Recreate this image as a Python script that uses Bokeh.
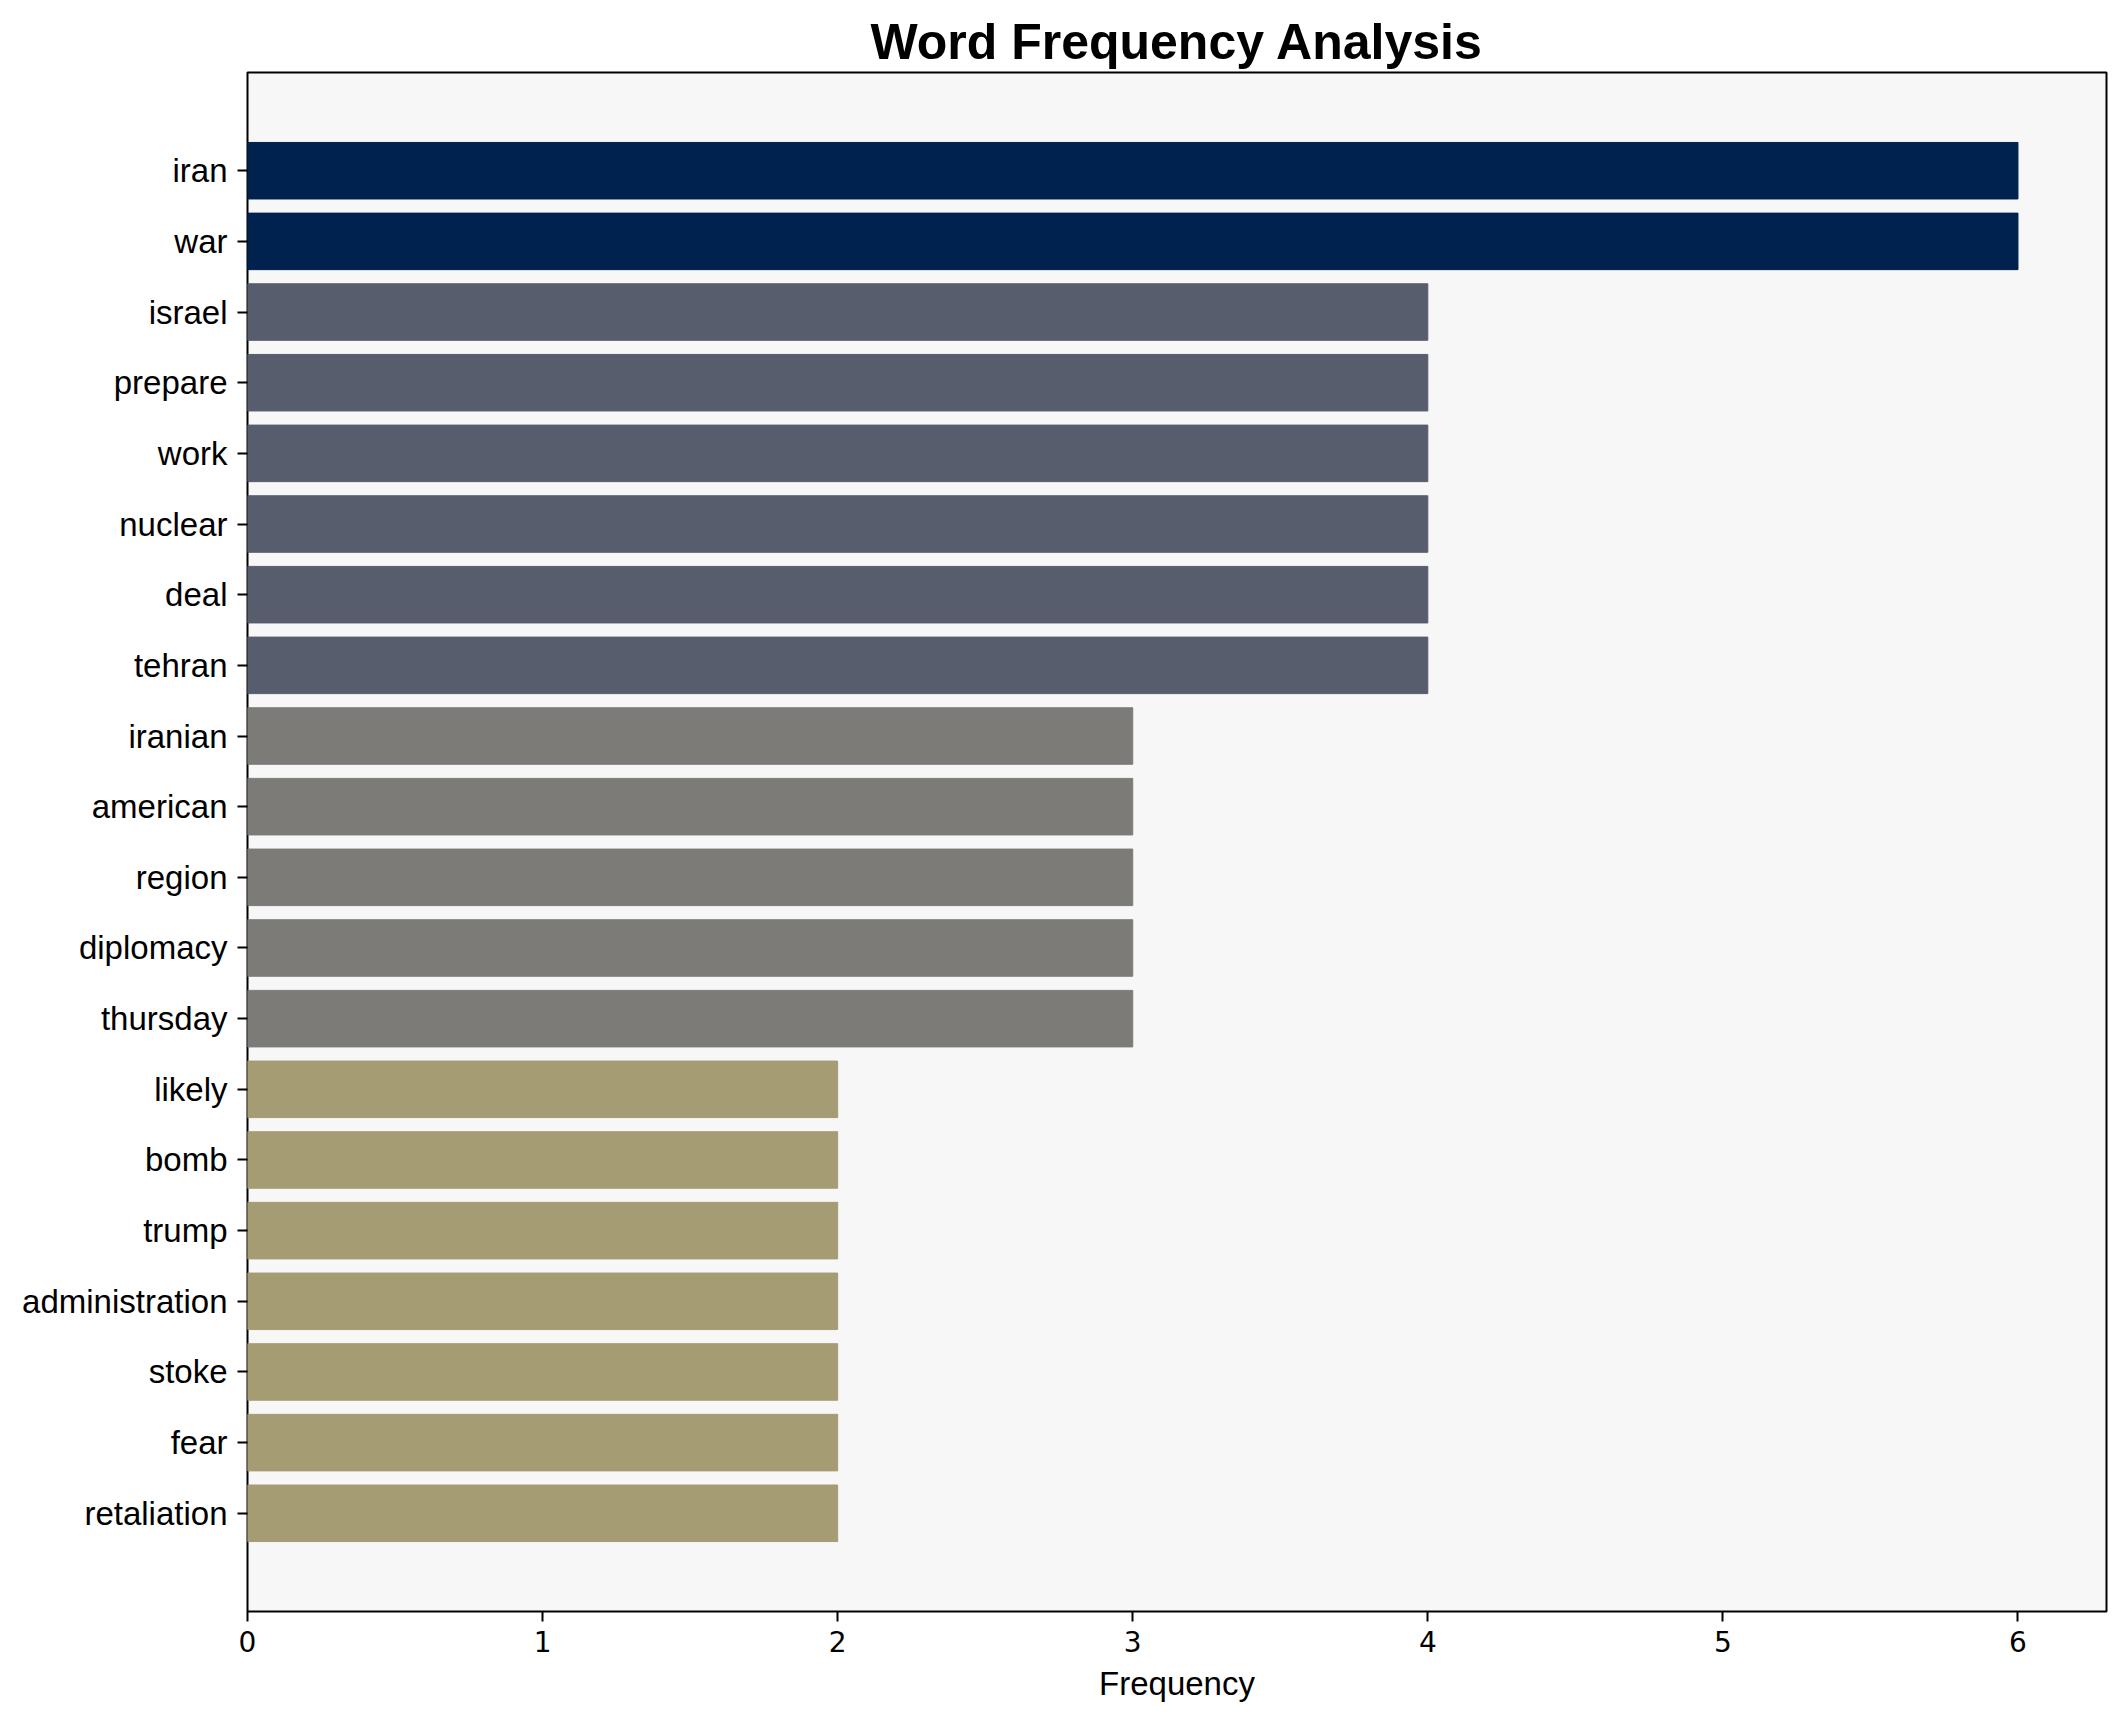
from bokeh.plotting import figure
from bokeh.models import ColumnDataSource, FactorRange, Range1d, FixedTicker
from bokeh.embed import file_html
from bokeh.resources import INLINE

words = ["iran", "war", "israel", "prepare", "work", "nuclear", "deal", "tehran",
         "iranian", "american", "region", "diplomacy", "thursday",
         "likely", "bomb", "trump", "administration", "stoke", "fear", "retaliation"]
counts = [6, 6, 4, 4, 4, 4, 4, 4, 3, 3, 3, 3, 3, 2, 2, 2, 2, 2, 2, 2]
x_ticks = [0, 1, 2, 3, 4, 5, 6]

palette = {6: "#00224e", 4: "#585d6d", 3: "#7c7b78", 2: "#a59c74"}
colors = [palette[c] for c in counts]

src = ColumnDataSource(dict(word=words, count=counts, color=colors))

y_range = FactorRange(factors=list(reversed(words)), range_padding=0.89,
                      range_padding_units="absolute")

p = figure(width=2118, height=1714, y_range=y_range, x_range=Range1d(0, 6.3),
           output_backend="svg", toolbar_location=None,
           min_border_left=247, min_border_right=12, min_border_top=72,
           min_border_bottom=103)

p.hbar(y="word", right="count", left=0, height=0.8, color="color", source=src)

p.title.text = "Word Frequency Analysis"
p.title.align = "center"
p.title.text_font = "Liberation Sans"
p.title.text_font_style = "bold"
p.title.text_font_size = "50px"
p.title.text_color = "black"
p.title.standoff = 6

p.background_fill_color = "#f7f7f7"
p.border_fill_color = "white"
p.outline_line_color = "black"
p.outline_line_width = 2
p.outline_line_alpha = 1.0
p.xgrid.visible = False
p.ygrid.visible = False

p.xaxis.ticker = FixedTicker(ticks=x_ticks)
p.xaxis.axis_label = "Frequency"
p.xaxis.axis_label_text_font = "Liberation Sans"
p.xaxis.axis_label_text_font_style = "normal"
p.xaxis.axis_label_text_font_size = "33px"
p.xaxis.axis_label_text_color = "black"
p.xaxis.axis_label_standoff = 10
p.xaxis.major_label_text_font = "DejaVu Sans"
p.xaxis.major_label_text_font_size = "28px"
p.xaxis.major_label_standoff = 9

p.yaxis.major_label_text_font = "Liberation Sans"
p.yaxis.major_label_text_font_size = "33px"
p.yaxis.major_label_standoff = 10

for ax in (p.xaxis, p.yaxis):
    ax.axis_line_color = None
    ax.major_tick_line_color = "black"
    ax.major_tick_line_width = 2
    ax.major_tick_out = 10
    ax.major_tick_in = 0
    ax.minor_tick_line_color = None
    ax.major_label_text_color = "black"

open("out.html", "w").write(file_html(p, INLINE))
